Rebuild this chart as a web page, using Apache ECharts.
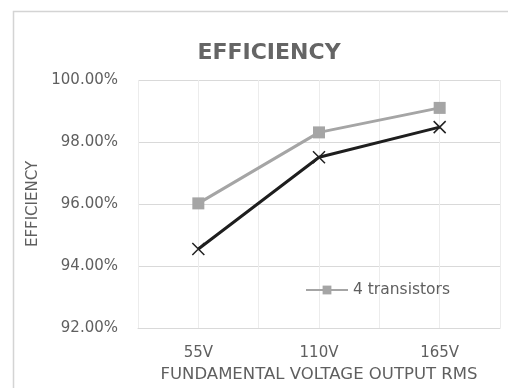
<!DOCTYPE html>
<html>
<head>
<meta charset="utf-8">
<script src="https://cdn.jsdelivr.net/npm/echarts@6/dist/echarts.min.js"></script>
<style>
  html, body { margin: 0; padding: 0; background: #fff; overflow: hidden; }
  #chart { width: 508px; height: 388px; }
</style>
</head>
<body>
<div id="chart"></div>
<script>
// Output voltage levels (fundamental, RMS)
const categories = ['55V', '110V', '165V'];
// Efficiency in percent for each configuration
const fourTransistors = [96.02, 98.31, 99.1];
const otherConfig = [94.55, 97.51, 98.48];
// Efficiency axis ticks
const yMin = 92;
const yMax = 100;
const yStep = 2;

const textGray = '#5f5f5f';
const chart = echarts.init(document.getElementById('chart'), null, { renderer: 'canvas' });

chart.setOption({
  animation: false,
  backgroundColor: '#ffffff',
  title: {
    text: 'EFFICIENCY',
    left: 264,
    top: 37,
    textAlign: 'center',
    textStyle: { fontFamily: 'DejaVu Sans', fontWeight: 'bold', fontSize: 22, color: '#656565' }
  },
  graphic: [{
    // chart frame: left and top edges
    type: 'polyline',
    shape: { points: [[13.5, 400], [13.5, 11.5], [520, 11.5]] },
    style: { fill: 'none', stroke: '#d4d4d4', lineWidth: 1.5 },
    silent: true,
    z: -1
  }],
  legend: {
    data: ['4 transistors'],
    left: 300,
    top: 277,
    itemWidth: 42,
    itemHeight: 11,
    textStyle: { fontFamily: 'DejaVu Sans', fontSize: 15.5, color: textGray },
    itemGap: 2
  },
  grid: { left: 138, right: 8, top: 80, bottom: 60, containLabel: false },
  xAxis: [{
    type: 'category',
    data: categories,
    boundaryGap: true,
    name: 'FUNDAMENTAL VOLTAGE OUTPUT RMS',
    nameLocation: 'middle',
    nameGap: 37,
    nameTextStyle: { fontFamily: 'DejaVu Sans', fontSize: 16.5, color: textGray },
    axisLine: { show: true, lineStyle: { color: '#d9d9d9' } },
    axisTick: { show: false },
    axisLabel: { fontFamily: 'DejaVu Sans', fontSize: 15, color: textGray, margin: 18 },
    splitLine: { show: true, lineStyle: { color: '#d9d9d9', width: 1 } }
  }, {
    // lighter guide lines through each category centre
    type: 'value',
    min: 0,
    max: 6,
    interval: 1,
    show: true,
    position: 'bottom',
    axisLine: { show: false },
    axisTick: { show: false },
    axisLabel: { show: false },
    splitLine: { show: true, lineStyle: { color: '#ececec', width: 1 } }
  }],
  yAxis: {
    type: 'value',
    min: yMin,
    max: yMax,
    interval: yStep,
    name: 'EFFICIENCY',
    nameLocation: 'middle',
    nameGap: 97,
    nameRotate: 90,
    nameTextStyle: { fontFamily: 'DejaVu Sans', fontSize: 15, color: textGray },
    axisLine: { show: false },
    axisTick: { show: false },
    axisLabel: {
      fontFamily: 'DejaVu Sans', fontSize: 15, color: textGray, margin: 20,
      formatter: v => v.toFixed(2) + '%'
    },
    splitLine: { show: true, lineStyle: { color: '#d9d9d9', width: 1 } }
  },
  series: [{
    name: '4 transistors',
    type: 'line',
    data: fourTransistors,
    xAxisIndex: 0,
    symbol: 'rect',
    symbolSize: 12,
    itemStyle: { color: '#a5a5a5' },
    lineStyle: { color: '#a5a5a5', width: 3 },
    z: 3
  }, {
    name: 'other',
    type: 'line',
    data: otherConfig,
    xAxisIndex: 0,
    symbol: 'path://M0,0 L10,10 M10,0 L0,10',
    symbolSize: 12,
    itemStyle: { color: 'none', borderColor: '#222222', borderWidth: 1.5 },
    lineStyle: { color: '#1e1e1e', width: 3 },
    z: 4
  }]
});
</script>
</body>
</html>
